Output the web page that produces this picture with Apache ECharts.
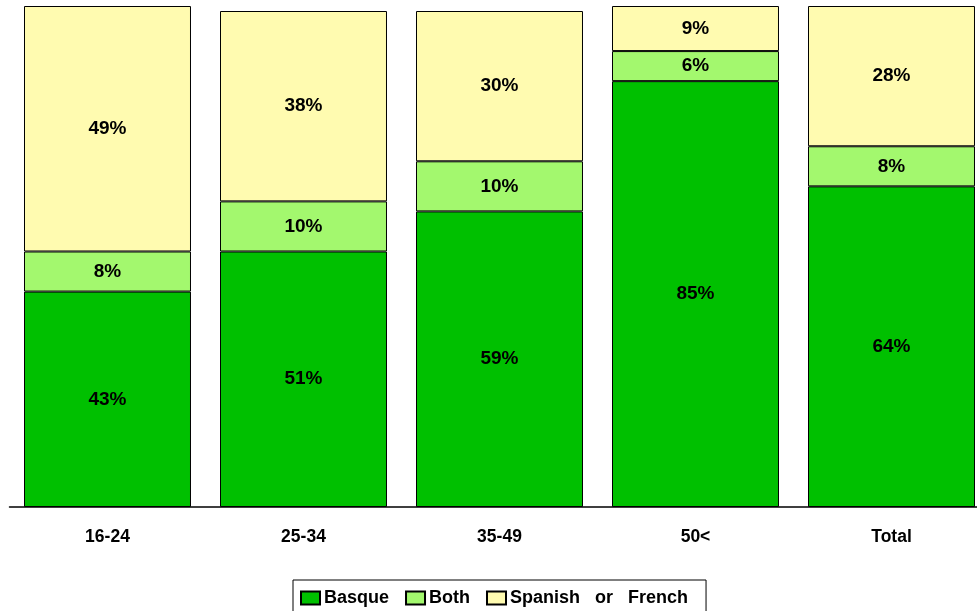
<!DOCTYPE html>
<html><head><meta charset="utf-8">
<script src="https://cdn.jsdelivr.net/npm/echarts@6/dist/echarts.min.js"></script>
<style>html,body{margin:0;padding:0;background:#fff}#c{width:977px;height:611px}</style>
</head><body><div id="c"></div>
<script>
var categories = ['16-24', '25-34', '35-49', '50<', 'Total'];
var basque = [43, 51, 59, 85, 64];
var both = [8, 10, 10, 6, 8];
var spanishFrench = [49, 38, 30, 9, 28];
var seriesNames = ['Basque', 'Both', 'Spanish   or   French'];
var colors = ['#00C000', '#A3F86E', '#FFFBB0'];

var FONT = 'Liberation Sans, Arial, sans-serif';
var chart = echarts.init(document.getElementById('c'), null, {renderer: 'canvas'});
function mk(name, data, color) {
  return {
    name: name, type: 'bar', stack: 'a', data: data,
    barCategoryGap: '14.8%',
    itemStyle: {color: color, borderColor: '#000', borderWidth: 1},
    label: {show: true, position: 'inside', formatter: '{c}%', color: '#000',
      fontFamily: FONT, fontWeight: 'bold', fontSize: 19},
    emphasis: {disabled: true}
  };
}
chart.setOption({
  animation: false,
  grid: {left: 9.5, top: 6, width: 980, height: 501, containLabel: false, outerBoundsMode: 'none'},
  xAxis: {type: 'category', data: categories,
    axisLine: {lineStyle: {color: '#000', width: 1.5}},
    axisTick: {show: false},
    axisLabel: {color: '#000', fontFamily: FONT, fontWeight: 'bold', fontSize: 17.5, margin: 21}
  },
  yAxis: {type: 'value', min: 0, max: 100, show: false},
  legend: {left: 293, top: 580, data: seriesNames,
    borderColor: '#000', borderWidth: 1, padding: [9, 18, 8, 7],
    itemWidth: 19, itemHeight: 13, itemGap: 16,
    textStyle: {color: '#000', fontFamily: FONT, fontWeight: 'bold', fontSize: 18, padding: [0,0,0,-1]},
    selectedMode: false, icon: 'rect'
  },
  series: [mk(seriesNames[0], basque, colors[0]), mk(seriesNames[1], both, colors[1]), mk(seriesNames[2], spanishFrench, colors[2])]
});
</script></body></html>
